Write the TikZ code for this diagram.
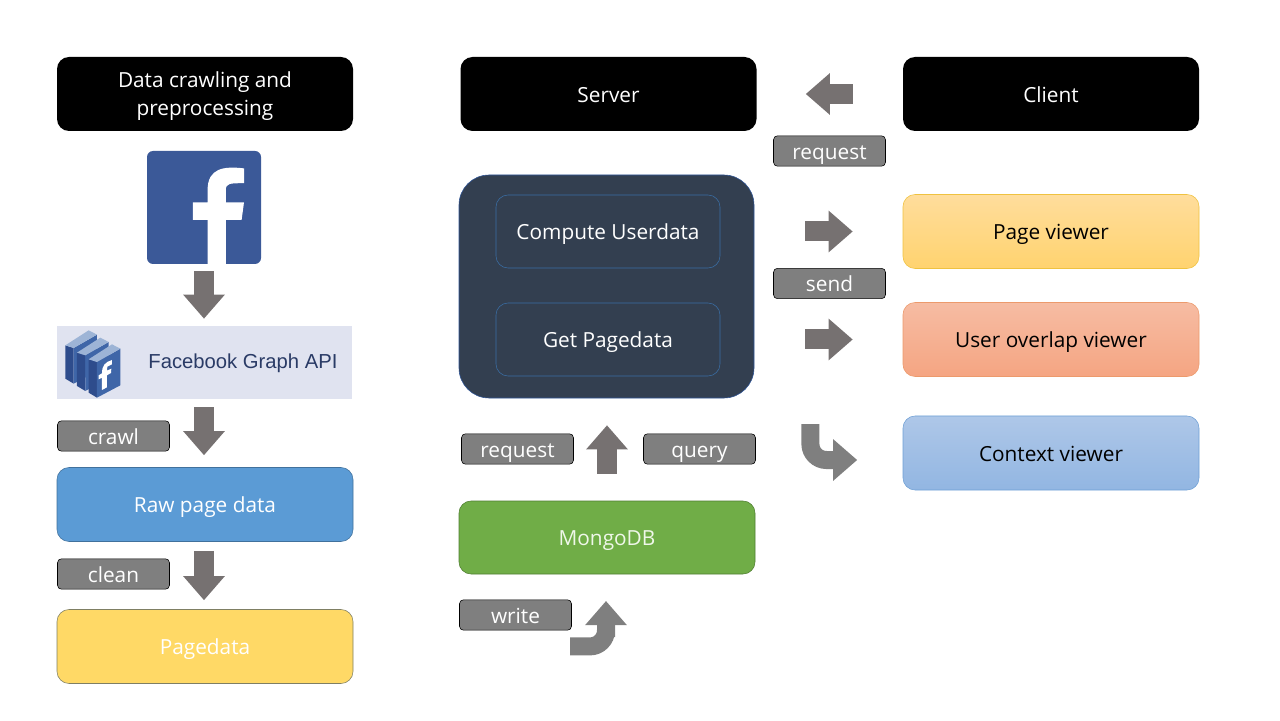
\documentclass[tikz,border=0pt]{standalone}
\usepackage{fontspec}
\setmainfont{Open Sans}
\newfontfamily\apifont{Liberation Sans}
\usetikzlibrary{arrows.meta}
\definecolor{arrowgray}{HTML}{767171}
\definecolor{bentgray}{HTML}{7F7F7F}
\definecolor{panelblue}{HTML}{333F50}
\definecolor{fbblue}{HTML}{3B5998}
\definecolor{innerline}{HTML}{3A6EA5}
\definecolor{panelline}{HTML}{2F5597}
\definecolor{apiback}{HTML}{E0E3F0}
\definecolor{apitext}{HTML}{2A3B66}
\definecolor{iconside}{HTML}{2E4C8C}
\definecolor{iconface}{HTML}{3F66A8}
\definecolor{icontop}{HTML}{9DB4D6}
\definecolor{rawfill}{HTML}{5B9BD5}
\definecolor{rawline}{HTML}{41719C}
\definecolor{pagefill}{HTML}{FFD966}
\definecolor{pageline}{HTML}{7F7F63}
\definecolor{mongofill}{HTML}{70AD47}
\definecolor{mongoline}{HTML}{507E32}
\definecolor{mongotext}{HTML}{EFF7E9}
\definecolor{viewtop}{HTML}{FFDD9C}
\definecolor{viewbot}{HTML}{FFD36F}
\definecolor{viewline}{HTML}{EFC240}
\definecolor{usertop}{HTML}{F6BCA3}
\definecolor{userbot}{HTML}{F5A582}
\definecolor{userline}{HTML}{EC9A6C}
\definecolor{ctxtop}{HTML}{AEC7E8}
\definecolor{ctxbot}{HTML}{92B6E2}
\definecolor{ctxline}{HTML}{6FA0D5}
\tikzset{
    txt/.style={font=\fontsize{14.8}{20}\selectfont,align=center},
    line/.style={text height=15.5pt,text depth=3.5pt},
    box/.style={txt,rounded corners=0.3cm,minimum width=7.4cm,minimum height=1.85cm,inner sep=0pt},
    headbox/.style={box,fill=black,text=white},
    tagbox/.style={txt,line,rounded corners=0.1cm,minimum width=2.8cm,minimum height=0.76cm,inner sep=0pt,fill=bentgray,draw=black,text=white},
    innerbox/.style={box,line,minimum width=5.6cm,minimum height=1.825cm,draw=innerline,text=white},
    blockarrow/.style={draw=arrowgray,line width=0.5cm,-{Triangle[length=0.6cm,width=1cm]}},
    bentarrow/.style={draw=bentgray,line width=0.45cm,rounded corners=0.4cm,-{Triangle[length=0.6cm,width=1cm]}}
}
\begin{document}
\begin{tikzpicture}
    \useasboundingbox (0,0) rectangle (32,18);
    % left column
    \node [headbox] (crawling) at (5.125,15.65) {Data crawling and\rule{0pt}{14pt}\\preprocessing};
    \node [rounded corners=0.15cm,fill=fbblue,minimum width=2.85cm,minimum height=2.825cm,inner sep=0pt] (fb) at (5.1,12.8125) {};
    \fill [white] (5.19,11.4) -- (5.645,11.4) -- (5.645,12.5) -- (6.04,12.5) -- (6.1,12.94) -- (5.645,12.94) -- (5.645,13.25) .. controls (5.645,13.42) and (5.75,13.42) .. (6.1,13.42) -- (6.1,13.79) .. controls (5.6,13.85) and (5.19,13.8) .. (5.19,13.25) -- (5.19,12.94) -- (4.82,12.94) -- (4.82,12.5) -- (5.19,12.5) -- cycle;
    \node [fill=apiback,minimum width=7.375cm,minimum height=1.825cm,inner sep=0pt] (api) at (5.1125,8.9375) {};
    \node [font=\apifont\fontsize{14.4}{16}\selectfont,text=apitext,inner sep=0pt] (apiname) at (6.075,8.93) {Facebook Graph API};
    \begin{scope}[shift={(1.425,9.85)},x=0.00833cm,y=-0.00833cm]
        \foreach \dx/\dy in {-70/-42,-35/-20,0/0} {
            \fill [iconside] (95+\dx,100+\dy) -- (120+\dx,108+\dy) -- (120+\dx,215+\dy) -- (95+\dx,200+\dy) -- cycle;
            \fill [iconface] (120+\dx,108+\dy) -- (190+\dx,68+\dy) -- (190+\dx,178+\dy) -- (120+\dx,215+\dy) -- cycle;
            \fill [icontop] (95+\dx,100+\dy) -- (165+\dx,55+\dy) -- (190+\dx,68+\dy) -- (120+\dx,108+\dy) -- cycle;
        }
        \fill [white] (135,192) -- (150,184) -- (150,148) -- (162,141) -- (163,128) -- (150,134) -- (151,122) -- (165,115) -- (165,102) .. controls (145,108) and (135,118) .. (135,142) -- (125,148) -- (125,160) -- (135,155) -- cycle;
    \end{scope}
    \node [box,line,fill=rawfill,draw=rawline,text=white] (raw) at (5.125,5.3875) {Raw page data};
    \node [box,line,fill=pagefill,draw=pageline,text=white] (pagedata) at (5.125,1.8375) {Pagedata};
    \node [tagbox] (crawl) at (2.8375,7.1) {crawl};
    \node [tagbox] (clean) at (2.8375,3.65) {clean};
    \draw [blockarrow,shorten <=0.175cm,shorten >=0.175cm] (fb.south) -- (fb.south |- api.north);
    \draw [blockarrow,shorten <=0.2cm,shorten >=0.3cm] (fb.south |- api.south) -- (fb.south |- raw.north);
    \draw [blockarrow,shorten <=0.225cm,shorten >=0.225cm] (fb.south |- raw.south) -- (fb.south |- pagedata.north);
    % server column
    \node [headbox,line] (server) at (15.2125,15.65) {Server};
    \node [rounded corners=0.75cm,fill=panelblue,draw=panelline,minimum width=7.375cm,minimum height=5.575cm,inner sep=0pt] (panel) at (15.1625,10.8375) {};
    \node [innerbox] (compute) at (15.2,12.2125) {Compute Userdata};
    \node [innerbox] (getpage) at (15.2,9.5125) {Get Pagedata};
    \node [box,line,fill=mongofill,draw=mongoline,text=mongotext,minimum height=1.825cm] (mongo) at (15.175,4.5625) {MongoDB};
    \node [tagbox] (mongoreq) at (12.9375,6.775) {request};
    \node [tagbox] (query) at (17.4875,6.775) {query};
    \node [tagbox] (write) at (12.8875,2.625) {write};
    \coordinate (writestart) at (14.25,1.84);
    \draw [blockarrow,shorten <=0.675cm,shorten >=0.675cm] (mongo.north) -- (mongo.north |- panel.south);
    \draw [bentarrow,shorten >=0.675cm] (writestart) -| (15.15,1.84) -- (15.15,3.65);
    % client column
    \node [headbox,line] (client) at (26.275,15.65) {Client};
    \node [box,line,top color=viewtop,bottom color=viewbot,draw=viewline] (page) at (26.275,12.2125) {Page viewer};
    \node [box,line,top color=usertop,bottom color=userbot,draw=userline] (user) at (26.275,9.5125) {User overlap viewer};
    \node [box,line,top color=ctxtop,bottom color=ctxbot,draw=ctxline] (context) at (26.275,6.675) {Context viewer};
    \node [tagbox] (sendreq) at (20.7375,14.225) {request};
    \node [tagbox] (send) at (20.7375,10.9125) {send};
    \coordinate (bendstart) at (20.26,7.4);
    \draw [blockarrow,shorten <=1.25cm,shorten >=1.225cm] (client.west) -- (server.east);
    \draw [blockarrow,shorten <=1.275cm,shorten >=1.25cm] (panel.east |- page.west) -- (page.west);
    \draw [blockarrow,shorten <=1.275cm,shorten >=1.25cm] (panel.east |- user.west) -- (user.west);
    \draw [bentarrow] (bendstart) |- (21.43,6.5);
\end{tikzpicture}
\end{document}
